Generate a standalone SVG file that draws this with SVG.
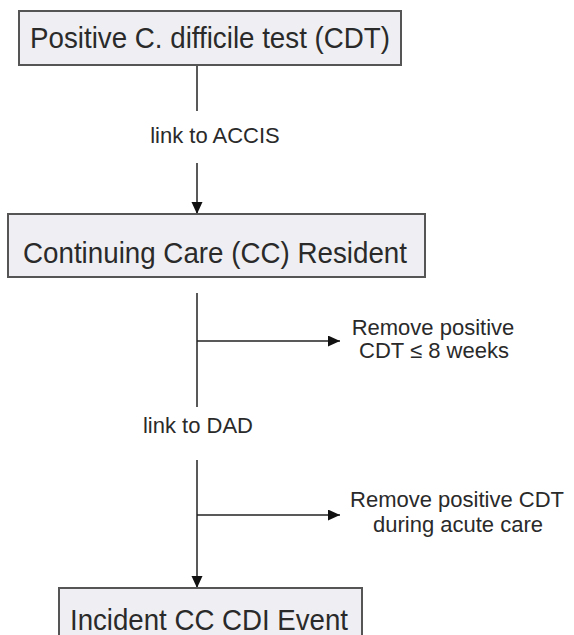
<svg xmlns="http://www.w3.org/2000/svg" width="574" height="635" viewBox="0 0 574 635">
<style>
.box{fill:#efeff3;stroke:#555;stroke-width:2}
.t{font-family:"Liberation Sans",Arial,sans-serif;fill:#2a2a2a}
.main{font-size:29px}
.lab{font-size:22px}
.ln{stroke:#222;stroke-width:1.5;fill:none}
</style>
<defs>
<marker id="ah" markerWidth="12" markerHeight="13" refX="12" refY="5.5" orient="auto" markerUnits="userSpaceOnUse">
<path d="M0,0 L12,5.5 L0,11 Z" fill="#111"/>
</marker>
</defs>
<rect width="574" height="635" fill="#fff"/>
<g id="connectors">
<line class="ln" x1="197" y1="65" x2="197" y2="111"/>
<line class="ln" x1="197" y1="163" x2="197" y2="214" marker-end="url(#ah)"/>
<line class="ln" x1="197" y1="293" x2="197" y2="407"/>
<line class="ln" x1="197" y1="341" x2="340" y2="341" marker-end="url(#ah)"/>
<line class="ln" x1="197" y1="460" x2="197" y2="588" marker-end="url(#ah)"/>
<line class="ln" x1="197" y1="515" x2="340" y2="515" marker-end="url(#ah)"/>
<text class="t lab" x="215" y="143" text-anchor="middle">link to ACCIS</text>
<text class="t lab" x="198" y="433" text-anchor="middle">link to DAD</text>
</g>
<g id="n1">
<rect class="box" x="19" y="11" width="382" height="54"/>
<text class="t main" x="210" y="48" text-anchor="middle" textLength="360" lengthAdjust="spacingAndGlyphs">Positive C. difficile test (CDT)</text>
</g>
<g id="n2">
<rect class="box" x="8" y="214" width="417" height="63"/>
<text class="t main" x="215" y="263" text-anchor="middle" textLength="384" lengthAdjust="spacingAndGlyphs">Continuing Care (CC) Resident</text>
</g>
<g id="n3">
<rect class="box" x="59" y="588" width="303" height="70"/>
<text class="t main" x="209" y="630" text-anchor="middle" textLength="278" lengthAdjust="spacingAndGlyphs">Incident CC CDI Event</text>
</g>
<g id="r1">
<text class="t lab" x="433" y="335" text-anchor="middle">Remove positive</text>
<text class="t lab" x="434" y="358" text-anchor="middle">CDT ≤ 8 weeks</text>
</g>
<g id="r2">
<text class="t lab" x="457" y="507" text-anchor="middle">Remove positive CDT</text>
<text class="t lab" x="458" y="532" text-anchor="middle">during acute care</text>
</g>
</svg>
